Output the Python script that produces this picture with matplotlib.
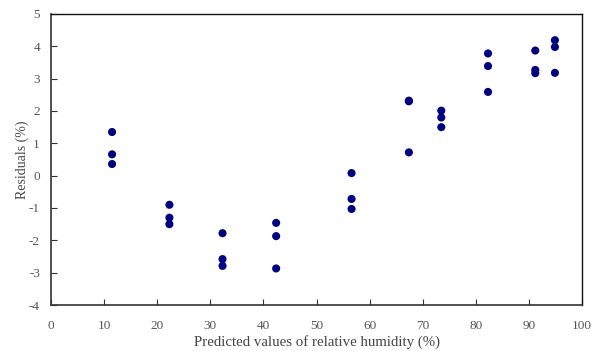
import matplotlib
matplotlib.use("Agg")
import matplotlib.pyplot as plt

plt.rcParams['font.family'] = ['Liberation Serif', 'DejaVu Serif']
plt.rcParams['axes.unicode_minus'] = False

# Predicted relative humidity (%) and residuals (%)
x_vals = [11.5, 11.5, 11.5,
          22.3, 22.3, 22.3,
          32.3, 32.3, 32.3,
          42.4, 42.4, 42.4,
          56.6, 56.6, 56.6,
          67.4, 67.4, 67.4,
          73.5, 73.5, 73.5,
          82.3, 82.3, 82.3,
          91.2, 91.2, 91.2,
          94.9, 94.9, 94.9]
residuals = [1.35, 0.66, 0.36,
             -0.90, -1.30, -1.50,
             -1.78, -2.58, -2.79,
             -1.46, -1.87, -2.87,
             0.08, -0.72, -1.03,
             2.32, 2.30, 0.72,
             2.01, 1.80, 1.50,
             3.78, 3.39, 2.59,
             3.87, 3.27, 3.17,
             4.19, 3.98, 3.18]

x_ticks = list(range(0, 101, 10))
y_ticks = list(range(-4, 6))

fig = plt.figure(figsize=(6.0, 3.51), dpi=100)
ax = fig.add_axes([51/600, 1 - 305/351, (582-51)/600, (305-14)/351])

ax.scatter(x_vals, residuals, s=34, color='#000080', edgecolors='none', zorder=3)

ax.set_xlim(0, 100)
ax.set_ylim(-4, 5)
ax.set_xticks(x_ticks)
ax.set_yticks(y_ticks)
ax.tick_params(direction='in', length=4, width=0.8, labelsize=9.5,
               labelcolor='#555555', color='#333333')
ax.tick_params(axis='x', pad=11)
ax.tick_params(axis='y', pad=8)
for side in ['left', 'bottom']:
    ax.spines[side].set_linewidth(1.2)
    ax.spines[side].set_color('#333333')
for side in ['top', 'right']:
    ax.spines[side].set_linewidth(1.0)
    ax.spines[side].set_color('#111111')

ax.set_xlabel('Predicted values of relative humidity (%)', fontsize=10.7,
              color='#444444', labelpad=2)
ax.set_ylabel('Residuals (%)', fontsize=10, color='#444444', labelpad=0)

fig.savefig('out.png', dpi=100)
